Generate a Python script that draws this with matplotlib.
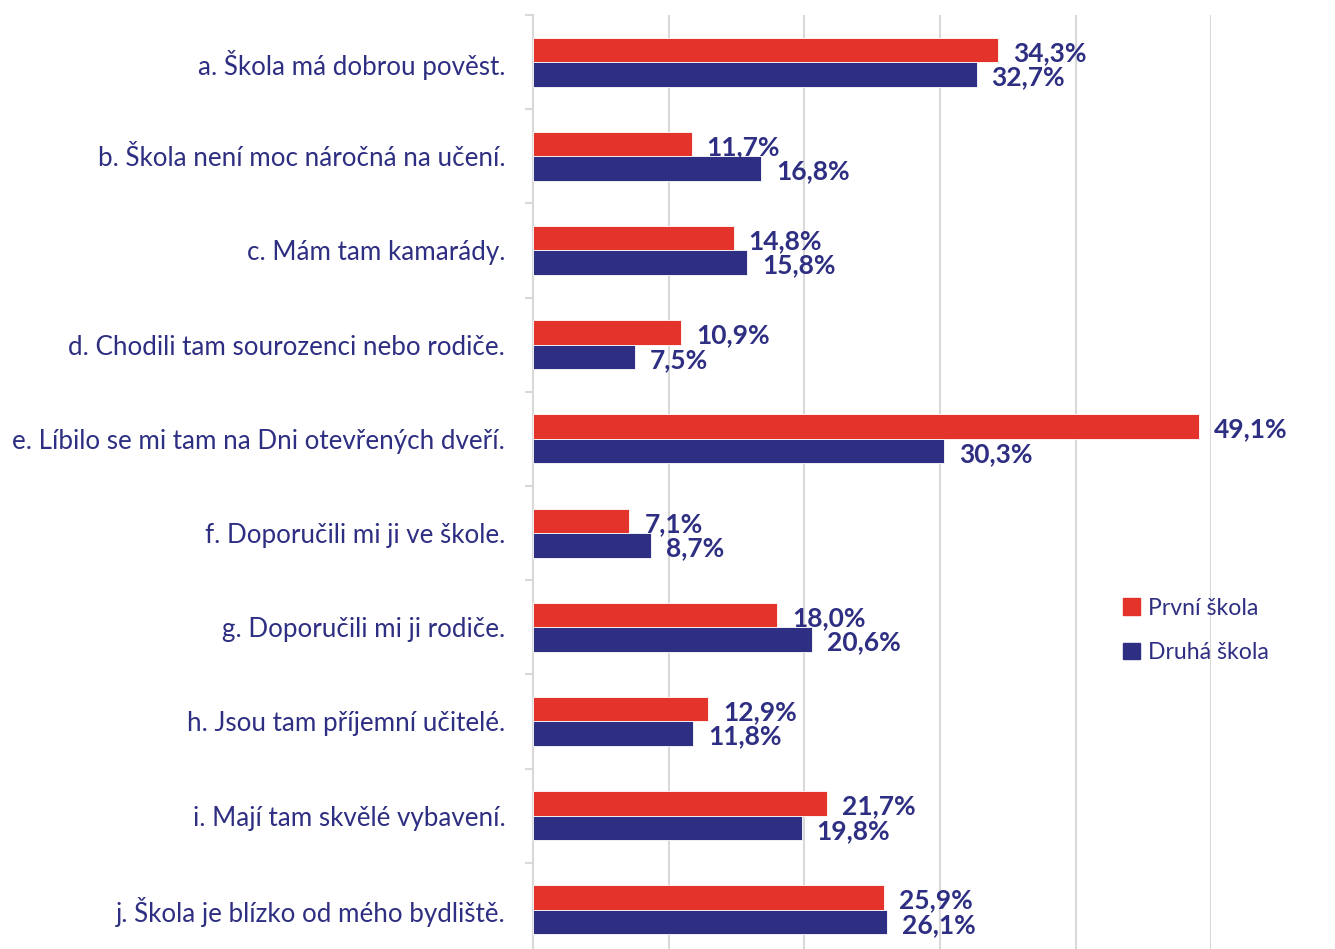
import matplotlib.pyplot as plt
from matplotlib.patches import Patch
import numpy as np

# Data
categories = [
    'a. Škola má dobrou pověst.',
    'b. Škola není moc náročná na učení.',
    'c. Mám tam kamarády.',
    'd. Chodili tam sourozenci nebo rodiče.',
    'e. Líbilo se mi tam na Dni otevřených dveří.',
    'f. Doporučili mi ji ve škole.',
    'g. Doporučili mi ji rodiče.',
    'h. Jsou tam příjemní učitelé.',
    'i. Mají tam skvělé vybavení.',
    'j. Škola je blízko od mého bydliště.',
]
prvni = [34.3, 11.7, 14.8, 10.9, 49.1, 7.1, 18.0, 12.9, 21.7, 25.9]
druha = [32.7, 16.8, 15.8, 7.5, 30.3, 8.7, 20.6, 11.8, 19.8, 26.1]
series_names = ['První škola', 'Druhá škola']

C_RED = '#E4332A'
C_NAVY = '#2E2E82'
C_GRID = '#D9D9D9'
FONT = 'Lato'

fig = plt.figure(figsize=(13.35, 9.49), dpi=100)
ax = fig.add_axes([0.3993, -0.0084, 0.5079, 0.9926])

y = np.arange(len(categories))
h = 0.26
ax.barh(y - h / 2, prvni, height=h, color=C_RED, edgecolor='white', lw=0.6, zorder=3)
ax.barh(y + h / 2, druha, height=h, color=C_NAVY, edgecolor='white', lw=0.6, zorder=3)

# popisky hodnot (desetinná čárka)
for yi, v in zip(y, prvni):
    ax.text(v + 1.1, yi - h / 2 + 0.03, f'{v:.1f}%'.replace('.', ','), ha='left', va='center',
            fontsize=19, fontweight='bold', color=C_NAVY, family=FONT, zorder=4)
for yi, v in zip(y, druha):
    ax.text(v + 1.1, yi + h / 2 + 0.03, f'{v:.1f}%'.replace('.', ','), ha='left', va='center',
            fontsize=19, fontweight='bold', color=C_NAVY, family=FONT, zorder=4)

ax.set_xlim(0, 50)
ax.set_ylim(len(categories) - 0.5, -0.5)
ax.set_xticks(np.arange(0, 51, 10))
ax.tick_params(axis='x', length=0, labelbottom=False)
ax.grid(axis='x', color=C_GRID, lw=1.5, zorder=0)

ax.set_yticks(y)
ax.set_yticklabels(categories, fontsize=18.7, color=C_NAVY, family=FONT)
ax.tick_params(axis='y', which='major', length=0, pad=20)
ax.set_yticks(np.arange(-0.5, len(categories), 1), minor=True)
ax.tick_params(axis='y', which='minor', length=6, width=1.5, color=C_GRID)

for s in ['top', 'right', 'bottom']:
    ax.spines[s].set_visible(False)
ax.spines['left'].set_color(C_GRID)
ax.spines['left'].set_linewidth(1.5)

handles = [Patch(color=C_RED, label=series_names[0]),
           Patch(color=C_NAVY, label=series_names[1])]
leg = fig.legend(handles=handles, loc='center left', bbox_to_anchor=(0.826, 0.336),
                 frameon=False, handlelength=0.7, handleheight=0.7,
                 labelspacing=1.0, handletextpad=0.35,
                 prop={'family': FONT, 'size': 16.6})
for t in leg.get_texts():
    t.set_color(C_NAVY)

fig.savefig('out.png', dpi=100, facecolor='white')
